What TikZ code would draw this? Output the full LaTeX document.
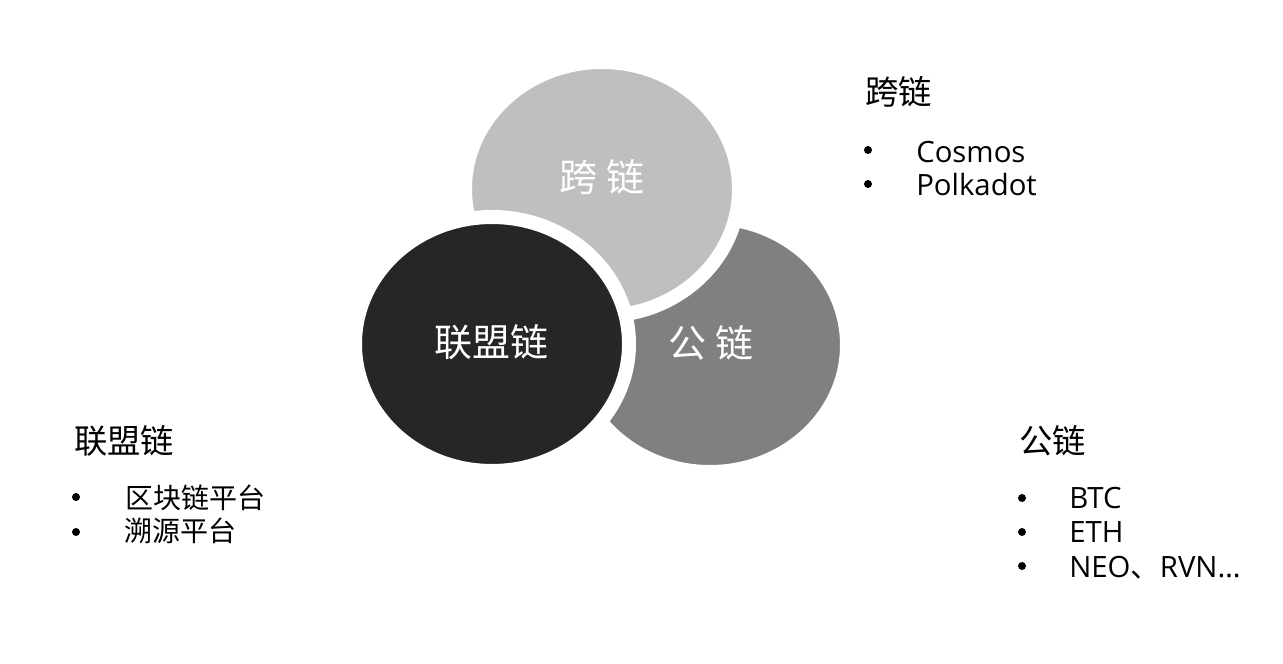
\documentclass[tikz,border=0pt]{standalone}
\usepackage{fontspec}
\setmainfont{Open Sans}
\newfontfamily\cjk{Noto Sans CJK SC}
\usetikzlibrary{shapes.geometric}
\definecolor{crossgray}{RGB}{191,191,191}
\definecolor{publicgray}{RGB}{128,128,128}
\definecolor{alliancegray}{RGB}{38,38,38}
\begin{document}
\begin{tikzpicture}
	[x=0.75pt,y=-0.75pt,
	every node/.style={inner sep=0pt},
	blob/.style={ellipse,draw=white,line width=10.5pt,minimum width=205.5pt,minimum height=190.5pt},
	blobtext/.style={text=white,font=\cjk\fontsize{28.5}{34}\selectfont},
	head/.style={anchor=west,font=\cjk\fontsize{25}{30}\selectfont},
	dot/.style={circle,fill=black,minimum size=6pt},
	item/.style={anchor=base west,font=\fontsize{22}{26}\selectfont},
	cjkitem/.style={anchor=west,font=\cjk\fontsize{21}{25}\selectfont}
	]
	\useasboundingbox (0,0) rectangle (1283,664);
	% circles
	\node[blob,fill=publicgray] (public) at (710,345) {};
	\node[blob,fill=crossgray] (cross) at (602,189) {};
	\node[blob,fill=alliancegray] (alliance) at (492,344) {};
	\node[blobtext] (publiclabel) at (711,343) {公 链};
	\node[blobtext] (crosslabel) at (602,177) {跨 链};
	\node[blobtext] (alliancelabel) at (491,342) {联盟链};
	% cross chain list
	\node[head] (crosshead) at (865,92) {跨链};
	\node[dot] (crossdot1) at (868,150) {};
	\node[dot] (crossdot2) at (868,184) {};
	\node[item] (cosmos) at (916,162) {Cosmos};
	\node[item] (polkadot) at (916,195) {Polkadot};
	% alliance chain list
	\node[head] (alliancehead) at (74,441) {联盟链};
	\node[dot] (alliancedot1) at (76,497) {};
	\node[dot] (alliancedot2) at (76,532) {};
	\node[cjkitem] (blockplat) at (125,498) {区块链平台};
	\node[cjkitem] (traceplat) at (124,531) {溯源平台};
	% public chain list
	\node[head] (publichead) at (1019,441) {公链};
	\node[dot] (publicdot1) at (1022,498) {};
	\node[dot] (publicdot2) at (1022,532) {};
	\node[dot] (publicdot3) at (1022,566) {};
	\node[item] (btc) at (1069,508) {BTC};
	\node[item] (eth) at (1069,542) {ETH};
	\node[item] (neo) at (1069,577) {NEO{\cjk 、}RVN…};
\end{tikzpicture}
\end{document}
